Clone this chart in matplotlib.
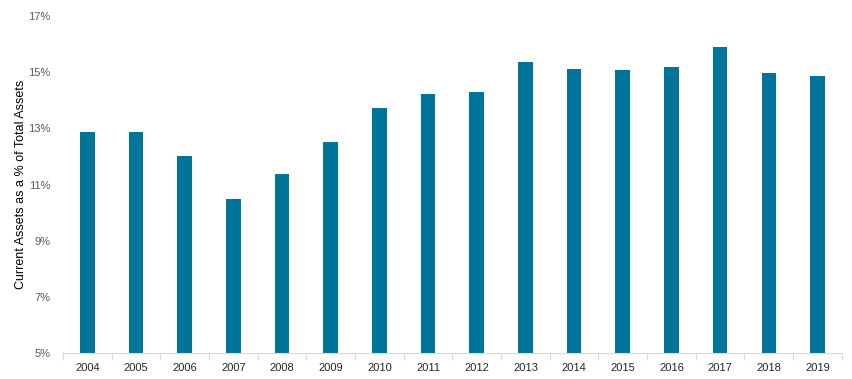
import matplotlib
matplotlib.use("Agg")
import matplotlib.pyplot as plt
import numpy as np
from matplotlib.ticker import FixedLocator

years = [str(y) for y in range(2004, 2020)]
current_pct = [12.88, 12.88, 12.00, 10.47, 11.39, 12.53, 13.73, 14.23,
               14.30, 15.37, 15.12, 15.08, 15.19, 15.90, 14.98, 14.87]
y_ticks = [5, 7, 9, 11, 13, 15, 17]

plt.rcParams['font.family'] = ['Liberation Sans', 'DejaVu Sans']

fig = plt.figure(figsize=(8.53, 3.79), dpi=100)
ax = fig.add_axes([0.0739, 0.0686, 0.913, 0.889])

x = np.arange(len(years))
ax.bar(x, [v - 5 for v in current_pct], bottom=5, width=0.3, color='#007499')

ax.set_xlim(-0.5, len(years) - 0.5)
ax.set_ylim(5, 17)
ax.set_yticks(y_ticks)
ax.set_yticklabels([f"{t}%" for t in y_ticks], color='#595959', fontsize=8)
ax.tick_params(axis='y', length=0, pad=9)

ax.set_xticks(x)
ax.set_xticklabels(years, color='#262626', fontsize=8)
# tick marks sit between the categories, like the excel original
ax.xaxis.set_minor_locator(FixedLocator(np.arange(-0.5, len(years), 1.0)))
ax.tick_params(axis='x', which='major', length=0, pad=7)
ax.tick_params(axis='x', which='minor', length=5, color='#d9d9d9', width=0.8)

for s in ['top', 'right', 'left']:
    ax.spines[s].set_visible(False)
ax.spines['bottom'].set_color('#d9d9d9')
ax.spines['bottom'].set_linewidth(0.8)

ax.set_ylabel("Current Assets as a % of Total Assets", fontsize=9, color='#000000', labelpad=1)

fig.savefig("out.png", dpi=100)
